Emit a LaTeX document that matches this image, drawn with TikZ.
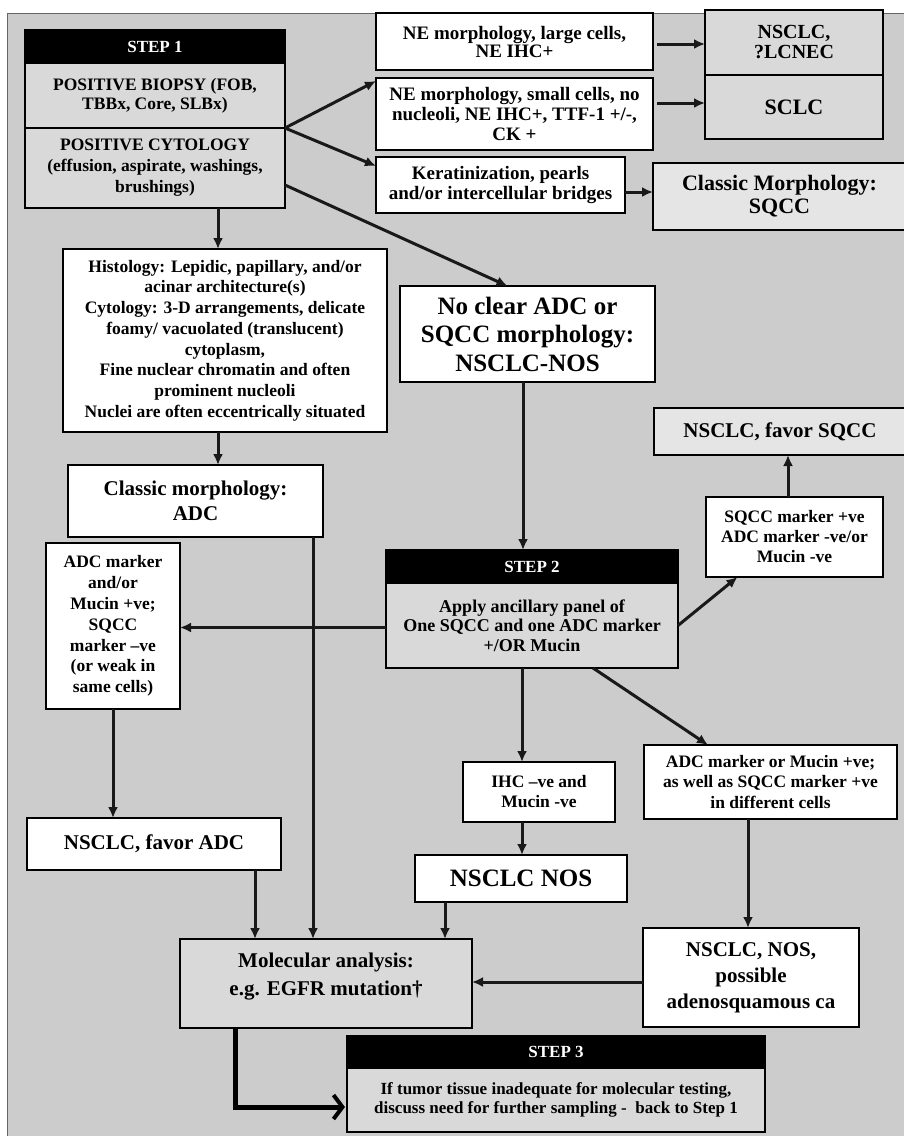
\documentclass[tikz,border=0pt]{standalone}
\usepackage{fontspec}
\setmainfont{Liberation Serif}
\usetikzlibrary{arrows.meta}
\definecolor{bg}{gray}{0.80}
\definecolor{gbox}{gray}{0.85}
\definecolor{lbox}{gray}{0.90}
\newcommand\bx[9]{\node[box, fill=#6, font=\fontsize{#7}{#8}\selectfont\bfseries, minimum width={#4-#2}, minimum height={#5-#3}] (#1) at ({(#2+#4)/2},{(#3+#5)/2}) {#9};}
\begin{document}
\begin{tikzpicture}[x=1pt,y=-1pt,
 box/.style={draw=black, line width=1.3pt, align=center, inner sep=0pt, outer sep=0pt},
 arr/.style={draw=black!90, line width=3pt, -{Latex[length=11pt,width=10pt]}},
 bigarr/.style={draw=black, line width=5pt, -{Straight Barb[length=9pt,width=24pt,line width=4pt]}}]
\useasboundingbox (0,0) rectangle (903,1136);
\fill[bg] (7,13) rectangle (906,1140);
\draw[line width=1pt, black!60] (7,1140) -- (7,13) -- (906,13);

\bx{h1}{25}{30}{285}{63}{black}{17}{20}{\textcolor{white}{STEP 1}}
\bx{s1b}{25}{63}{285}{128}{gbox}{17.5}{19}{POSITIVE BIOPSY (FOB,\\TBBx, Core, SLBx)}
\bx{s1c}{25}{128}{285}{208}{gbox}{17.5}{21}{POSITIVE CYTOLOGY\\(effusion, aspirate, washings,\\brushings)}
\bx{nel}{376}{13}{653}{70}{white}{19}{18}{NE morphology, large cells,\\NE IHC+}
\bx{nes}{376}{78}{653}{150}{white}{19}{20}{NE morphology, small cells, no\\nucleoli, NE IHC+, TTF-1 +/-,\\CK +}
\bx{ker}{376}{157}{625}{213}{white}{19}{20}{Keratinization, pearls\\and/or intercellular bridges}
\bx{lc}{705}{10}{883}{75}{gbox}{20}{20}{NSCLC,\\?LCNEC}
\bx{sc}{705}{75}{883}{139}{gbox}{22}{22}{SCLC}
\bx{sq}{653}{163}{906}{230}{lbox}{22}{23}{Classic Morphology:\\SQCC}
\bx{hi}{63}{249}{387}{432}{white}{17.5}{20.7}{Histology: Lepidic, papillary, and/or\\acinar architecture(s)\\Cytology: 3-D arrangements, delicate\\foamy/ vacuolated (translucent)\\cytoplasm,\\Fine nuclear chromatin and often\\prominent nucleoli\\Nuclei are often eccentrically situated}
\bx{nc}{400}{286}{655}{382}{white}{25}{28.5}{No clear ADC or\\SQCC morphology:\\NSCLC-NOS}
\bx{adc}{68}{465}{323}{537}{white}{21}{25}{Classic morphology:\\ADC}
\bx{fsq}{654}{408}{906}{455}{lbox}{21}{24}{NSCLC, favor SQCC}
\bx{sqm}{706}{497}{883}{577}{white}{17.5}{20}{SQCC marker +ve\\ADC marker -ve/or\\Mucin -ve}
\bx{h2}{386}{550}{678}{583}{black}{17}{20}{\textcolor{white}{STEP 2}}
\bx{s2}{386}{583}{678}{668}{gbox}{18}{19.5}{Apply ancillary panel of\\One SQCC and one ADC marker\\+/OR Mucin}
\bx{am}{46}{543}{180}{709}{white}{17.5}{20.8}{ADC marker\\and/or\\Mucin +ve;\\SQCC\\marker –ve\\(or weak in\\same cells)}
\bx{fadc}{27}{818}{281}{870}{white}{21}{24}{NSCLC, favor ADC}
\bx{ihc}{463}{762}{615}{822}{white}{17.5}{20}{IHC –ve and\\Mucin -ve}
\bx{amu}{644}{745}{897}{819}{white}{17.5}{20.5}{ADC marker or Mucin +ve;\\as well as SQCC marker +ve\\in different cells}
\bx{nos}{415}{855}{627}{902}{white}{25}{26}{NSCLC NOS}
\bx{nosp}{643}{928}{859}{1027}{white}{21}{26}{NSCLC, NOS,\\possible\\adenosquamous ca}
\bx{mol}{180}{939}{472}{1028}{gbox}{21}{28}{Molecular analysis:\\e.g. EGFR mutation†\\[-9pt]}
\bx{h3}{347}{1036}{765}{1068}{black}{17}{20}{\textcolor{white}{STEP 3}}
\bx{s3}{347}{1068}{765}{1132}{gbox}{17}{19}{If tumor tissue inadequate for molecular testing,\\discuss need for further sampling -\ \ back to Step 1}

% connectors
\draw[arr] (s1b.south east) -- ([yshift=33pt]nes.west);
\draw[arr] (s1b.south east) -- ([yshift=19pt]ker.west);
\draw[arr] ([yshift=-17pt]s1c.east) -- ([xshift=-20pt]nc.north);
\draw[arr] ([xshift=4pt,yshift=-2.5pt]nel.east) -- ([yshift=-2.5pt]nel.east -| lc.west);
\draw[arr] ([xshift=4pt,yshift=4pt]sc.west -| nes.east) -- ([yshift=4pt]sc.west);
\draw[arr] ([yshift=-7pt]ker.east) -- ([yshift=-7pt]ker.east -| sq.west);
\coordinate (c1) at ([xshift=63pt]s1c.south);
\draw[arr] (c1) -- (c1 |- hi.north);
\draw[arr] (c1 |- hi.south) -- (c1 |- adc.north);
\coordinate (c2) at ([xshift=-10pt]adc.south east);
\draw[arr] (c2) -- (c2 |- mol.north);
\coordinate (c3) at ([xshift=-4.5pt]nc.south);
\draw[arr] (c3) -- (c3 |- h2.north);
\draw[arr] ([yshift=-2pt]s2.west) -- ([yshift=-2pt]s2.west -| am.east);
\draw[arr] (am.south) -- (am.south |- fadc.north);
\coordinate (c4) at ([xshift=-26pt]fadc.south east);
\draw[arr] (c4) -- (c4 |- mol.north);
\draw[arr] (s2.east) -- ([xshift=-57pt]sqm.south);
\coordinate (c5) at ([xshift=-6.5pt]sqm.north);
\draw[arr] (c5) -- (c5 |- fsq.south);
\coordinate (c6) at ([xshift=-10pt]s2.south);
\draw[arr] (c6) -- (c6 |- ihc.north);
\draw[arr] (c6 |- ihc.south) -- (c6 |- nos.north);
\draw[arr] ([xshift=61pt]s2.south) -- ([xshift=-62.5pt]amu.north);
\coordinate (c7) at ([xshift=-22.5pt]amu.south);
\draw[arr] (c7) -- (c7 |- nosp.north);
\coordinate (c8) at ([xshift=-76pt]nos.south);
\draw[arr] (c8) -- (c8 |- mol.north);
\draw[arr] ([yshift=-4.5pt]nosp.west) -- ([yshift=-4.5pt]nosp.west -| mol.east);
\draw[bigarr] ([xshift=-91pt]mol.south) |- ([yshift=-7pt,xshift=-2pt]s3.west);
\end{tikzpicture}
\end{document}
